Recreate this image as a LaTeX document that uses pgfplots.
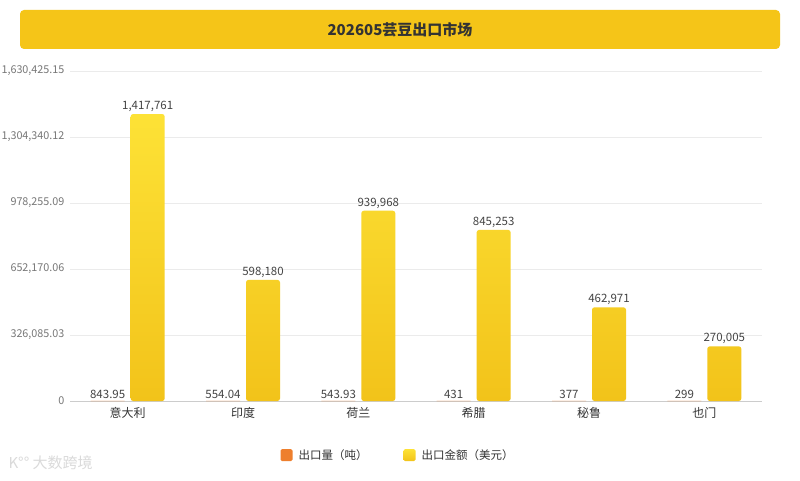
\documentclass[border=0pt]{standalone}
\usepackage{pgfplots}
\pgfplotsset{compat=1.18}
\usepackage{fontspec}
\setmainfont{Noto Sans CJK SC}
\definecolor{titleY}{HTML}{F5C518}
\definecolor{txt}{HTML}{333333}
\definecolor{lab}{HTML}{444444}
\definecolor{tick}{HTML}{777777}
\definecolor{gridc}{HTML}{EBEBEB}
\definecolor{axc}{HTML}{CCCCCC}
\definecolor{orangeC}{HTML}{EE7F2D}
\definecolor{ytop}{HTML}{FDE236}
\definecolor{ybot}{HTML}{F2C31A}
\definecolor{wm}{HTML}{DADADA}
\begin{document}
\begin{tikzpicture}[x=1pt,y=1pt]
\useasboundingbox (0,0) rectangle (800,480);
\fill[white] (0,0) rectangle (800,480);
\fill[titleY, rounded corners=4pt] (20,431) rectangle (780,470);
\node[font=\bfseries\fontsize{15}{17}\selectfont, text=txt] at (400,450.5) {202605芸豆出口市场};
\node[font=\fontsize{15}{17}\selectfont, text=wm, anchor=west] at (5,17) {K°° 大数跨境};
\begin{axis}[
  at={(70pt,79pt)}, anchor=south west, scale only axis,
  width=692pt, height=330pt,
  xmin=-0.5, xmax=5.5, ymin=0, ymax=1630425.15,
  ybar,
  scaled y ticks=false,
  xtick={0,1,2,3,4,5},
  xticklabels={意大利,印度,荷兰,希腊,秘鲁,也门},
  ytick={0,326085.03,652170.06,978255.09,1304340.12,1630425.15},
  yticklabels={0,{326,085.03},{652,170.06},{978,255.09},{1,304,340.12},{1,630,425.15}},
  axis x line*=bottom, axis y line*=left,
  x axis line style={draw=axc, line width=0.8pt, -},
  y axis line style={draw=none},
  major tick length=0pt,
  ymajorgrids, grid style={draw=gridc, line width=0.6pt},
  yticklabel style={font=\fontsize{10.8}{12}\selectfont, text=tick},
  xticklabel style={font=\fontsize{12}{14}\selectfont, text=txt},
  /pgf/number format/assume math mode=true,
  yticklabel shift=2pt,
  xticklabel shift=3pt,
  nodes near coords,
  nodes near coords style={font=\fontsize{11.5}{13}\selectfont, text=lab, anchor=south, yshift=-1pt,
    /pgf/number format/.cd, fixed, precision=2, 1000 sep={,}, assume math mode=true},
  legend style={at={(0.474,-0.164)}, anchor=center, draw=none, fill=none,
    legend columns=2, font=\fontsize{11.5}{13}\selectfont, text=txt,
    /tikz/every even column/.append style={column sep=34pt},
    /tikz/every odd column/.append style={column sep=4pt}},
  legend image code/.code={\path[#1, draw=none, rounded corners=1.5pt] (0pt,-6pt) rectangle (12pt,6pt);},
]
\addplot[draw=none, fill=orangeC, bar width=34pt, bar shift=-20pt]
  coordinates {(0,843.95) (1,554.04) (2,543.93) (3,431) (4,377) (5,299)};
\addlegendentry{出口量（吨）}
\addplot[draw=none, top color=ytop, bottom color=ybot, bar width=34pt, bar shift=20pt, rounded corners=2.5pt]
  coordinates {(0,1417761) (1,598180) (2,939968) (3,845253) (4,462971) (5,270005)};
\addlegendentry{出口金额（美元）}
\end{axis}
\end{tikzpicture}
\end{document}
